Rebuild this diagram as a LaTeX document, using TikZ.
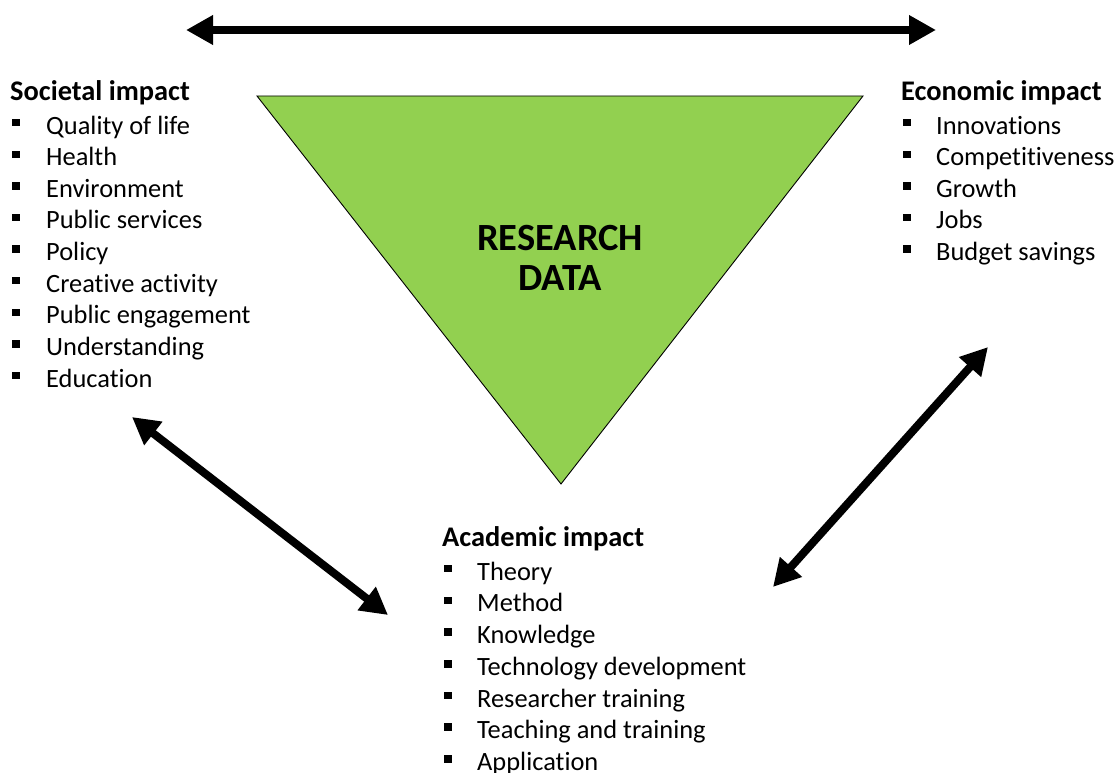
\documentclass[tikz,border=0pt]{standalone}
\usepackage{fontspec}
\setmainfont{Carlito}[Ligatures=NoCommon]
\usetikzlibrary{arrows.meta}
\definecolor{datagreen}{HTML}{92D050}
\tikzset{
  bigarrow/.style={line width=8pt,{Triangle[length=27pt,width=28pt]}-{Triangle[length=27pt,width=28pt]}},
  heading/.style={anchor=base west,inner sep=0pt,font=\fontsize{28.4}{32}\selectfont\bfseries},
  item/.style={anchor=base west,inner sep=0pt,font=\fontsize{26.4}{30}\selectfont},
  bulletbox/.style={fill=black,minimum size=7.5pt,inner sep=0pt,draw=none},
  title/.style={anchor=base,inner sep=0pt,font=\fontsize{38.5}{40}\selectfont\bfseries},
}
\begin{document}
\begin{tikzpicture}[x=1pt,y=-1pt]
\useasboundingbox (0,0) rectangle (1117,773);
% triangle
\coordinate (tl) at (257,96);
\coordinate (tr) at (863,96);
\coordinate (tb) at (561,484);
\draw[fill=datagreen,line width=0.9pt,line join=miter] (tl) -- (tr) -- (tb) -- cycle;
\node[title] (rd1) at (560,250) {RESEARCH};
\node[title] (rd2) at (560,290) {DATA};
% societal
\node[heading] (soch) at (10,101) {Societal impact};
\foreach \t [count=\i] in {Quality of life,Health,Environment,Public services,Policy,Creative activity,Public engagement,Understanding,Education}{
  \pgfmathsetmacro\yy{102.6+31.6*\i}
  \node[bulletbox] (socb\i) at (16,\yy-11.5) {};
  \node[item] (soc\i) at (46,\yy) {\t};
}
% economic
\node[heading] (ecoh) at (901,101) {Economic impact};
\foreach \t [count=\i] in {Innovations,Competitiveness,Growth,Jobs,Budget savings}{
  \pgfmathsetmacro\yy{102.6+31.6*\i}
  \node[bulletbox] (ecob\i) at (907,\yy-11.5) {};
  \node[item] (eco\i) at (936,\yy) {\t};
}
% academic
\node[heading] (acah) at (442,546) {Academic impact};
\foreach \t [count=\i] in {Theory,Method,Knowledge,Technology development,Researcher training,Teaching and training,Application}{
  \pgfmathsetmacro\yy{548.5+31.7*\i}
  \node[bulletbox] (acab\i) at (448,\yy-11.5) {};
  \node[item] (aca\i) at (477,\yy) {\t};
}
% arrows
\coordinate (a1) at (186,30);
\coordinate (a2) at (936,30);
\coordinate (b1) at (132,417);
\coordinate (b2) at (388,615);
\coordinate (c1) at (988,347);
\coordinate (c2) at (773,587);
\draw[bigarrow] (a1) -- (a2);
\draw[bigarrow] (b1) -- (b2);
\draw[bigarrow] (c1) -- (c2);
\end{tikzpicture}
\end{document}
